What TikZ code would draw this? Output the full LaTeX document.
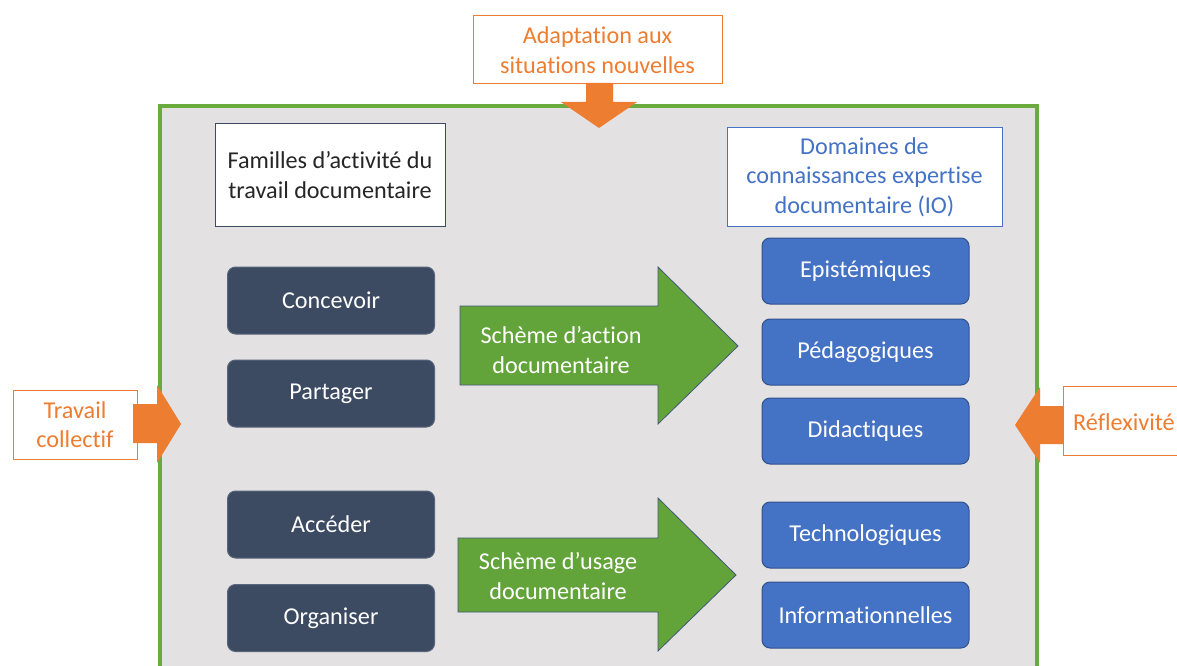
\documentclass[tikz,border=0pt]{standalone}
\usepackage{fontspec}
\setmainfont{Carlito}[Ligatures=NoCommon]
\definecolor{orng}{HTML}{ED7D31}
\definecolor{frameg}{HTML}{6BAA3C}
\definecolor{bggray}{HTML}{E3E1E2}
\definecolor{darkbox}{HTML}{3C4A62}
\definecolor{bluefill}{HTML}{4472C4}
\definecolor{blueborder}{HTML}{2F528F}
\definecolor{arrg}{HTML}{63A43A}
\definecolor{arrborder}{HTML}{41597A}
\definecolor{txtdark}{HTML}{262626}
\begin{document}
\begin{tikzpicture}[x=1pt,y=-1pt,
  txt/.style={font=\fontsize{24.2}{29.5}\selectfont, align=center, inner sep=0pt},
  darkb/.style={txt, rounded corners=8pt, fill=darkbox, draw=darkbox!85!white, line width=1pt, text=white, minimum width=207pt, minimum height=67pt},
  blueb/.style={txt, rounded corners=8pt, fill=bluefill, draw=blueborder, line width=1pt, text=white, minimum width=207pt, minimum height=66pt},
  obox/.style={txt, draw=orng, fill=white, line width=1pt, text=orng},
  oarrow/.style={fill=orng, draw=none},
  garrow/.style={fill=arrg, draw=arrborder, line width=0.8pt},
]
\useasboundingbox (0,0) rectangle (1177,666);
\clip (0,0) rectangle (1177,666);
\fill[white] (0,0) rectangle (1177,666);
% frame
\draw[fill=bggray, draw=frameg, line width=4.5pt] (160,106) rectangle (1037,720);

% top box + arrow
\node[obox, minimum width=249pt, minimum height=68pt] (adapt) at (597.5,50) {Adaptation aux\\situations nouvelles};
\fill[oarrow] (586,83) -- (613,83) -- (613,102) -- (637,102) -- (599,128) -- (561,102) -- (586,102) -- cycle;

% left box + arrow
\node[obox, minimum width=124pt, minimum height=69pt] (trav) at (75,424.5) {Travail\\collectif};
\fill[oarrow] (133,404) -- (157,404) -- (157,385) -- (181,424) -- (157,463) -- (157,443) -- (133,443) -- cycle;

% right box + arrow
\draw[orng, fill=white, line width=1pt] (1063,386) rectangle (1200,455);
\node[txt, text=orng, anchor=west] (refl) at (1073,422) {Réflexivité};
\fill[oarrow] (1063,406) -- (1040,406) -- (1040,387) -- (1015,425) -- (1040,463) -- (1040,444) -- (1063,444) -- cycle;

% header boxes
\node[txt, draw=darkbox, fill=white, line width=0.8pt, text=txtdark, minimum width=230pt, minimum height=103pt] (fam) at (330,175) {Familles d’activité du\\travail documentaire};
\node[txt, draw=bluefill, fill=white, line width=1pt, text=bluefill, minimum width=275pt, minimum height=99pt] (dom) at (864.5,177) {Domaines de\\connaissances expertise\\documentaire (IO)};

% dark boxes
\node[darkb] (conc) at (331,300.5) {Concevoir};
\node[darkb] (part) at (331,393.5) {Partager};
\node[darkb] (acc) at (331,524.5) {Accéder};
\node[darkb] (org) at (331,618) {Organiser};

% blue boxes
\node[blueb] (epi) at (865.5,271) {Epistémiques};
\node[blueb] (ped) at (865.5,352) {Pédagogiques};
\node[blueb] (did) at (865.5,431) {Didactiques};
\node[blueb] (tec) at (865.5,535) {Technologiques};
\node[blueb] (inf) at (865.5,615) {Informationnelles};

% green arrows
\draw[garrow] (460,306) -- (658,306) -- (658,267) -- (738,346) -- (658,424) -- (658,385) -- (460,385) -- cycle;
\node[txt, text=white] (sa) at (561,350) {Schème d’action\\documentaire};
\draw[garrow] (458,538) -- (658,538) -- (658,498) -- (736,575) -- (658,651) -- (658,612) -- (458,612) -- cycle;
\node[txt, text=white] (su) at (558,576) {Schème d’usage\\documentaire};
\end{tikzpicture}
\end{document}
